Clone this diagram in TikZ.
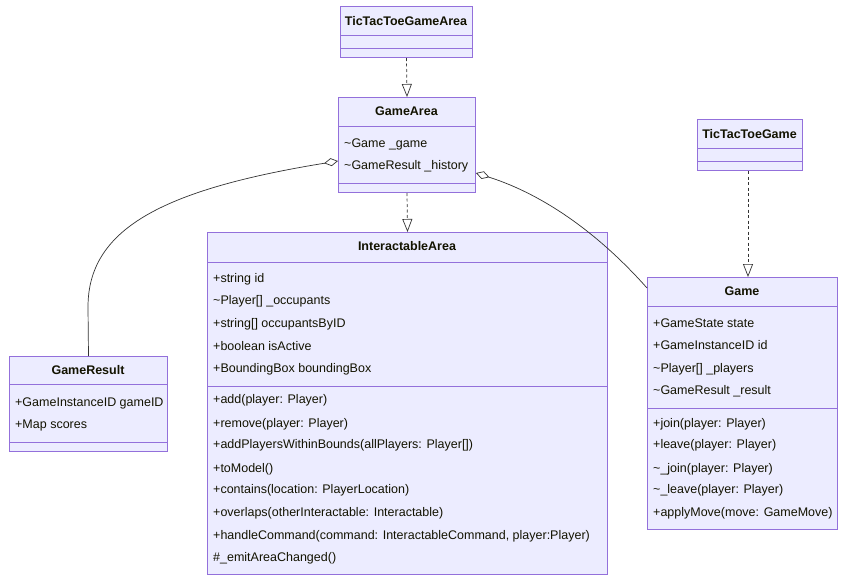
\documentclass[tikz,border=0pt]{standalone}
\usepackage{fontspec}
\setmainfont{Liberation Sans}
\usetikzlibrary{arrows.meta}
\definecolor{boxfill}{HTML}{ECECFF}
\definecolor{boxline}{HTML}{9370DB}
\definecolor{edge}{HTML}{333333}
\definecolor{txt}{HTML}{131300}
\tikzset{
  cls/.style={draw=boxline, fill=boxfill, line width=1pt, inner sep=0pt, anchor=north west},
  div/.style={draw=boxline, line width=1pt},
  mem/.style={anchor=mid west, inner sep=0pt, yshift=-2pt, text=txt, font=\fontsize{12.5}{15}\selectfont},
  ttl/.style={anchor=mid, inner sep=0pt, yshift=-2pt, text=txt, font=\fontsize{12.5}{15}\selectfont\bfseries},
  rel/.style={draw=edge, line width=0.7pt},
  inh/.style={rel, dash pattern=on 3pt off 2.5pt, -{Triangle[open, length=13pt, width=10pt, line width=0.7pt]}},
  agg/.style={rel, {Diamond[open, length=14pt, width=8pt, line width=0.7pt]}-}
}
\begin{document}
\begin{tikzpicture}[x=1pt, y=-1pt]
\useasboundingbox[fill=white] (0,0) rectangle (846,581);

% TicTacToeGameArea
\node[cls, minimum width=132pt, minimum height=51pt] (tga) at (340,6) {};
\node[ttl] (tga-t) at (406,20.5) {TicTacToeGameArea};
\draw[div] (340,35) -- (472,35);
\draw[div] (340,48) -- (472,48);

% GameArea
\node[cls, minimum width=137pt, minimum height=95pt] (ga) at (338,97) {};
\node[ttl] (ga-t) at (406.5,111) {GameArea};
\draw[div] (338,126) -- (475,126);
\node[mem] (ga-a1) at (344,142.7) {\textasciitilde Game \_game};
\node[mem] (ga-a2) at (344,164.7) {\textasciitilde GameResult \_history};
\draw[div] (338,183.3) -- (475,183.3);

% InteractableArea
\node[cls, minimum width=400pt, minimum height=342pt] (ia) at (207,232) {};
\node[ttl] (ia-t) at (407,246) {InteractableArea};
\draw[div] (207,262) -- (607,262);
\node[mem] (ia-a1) at (213,277.5) {+string id};
\node[mem] (ia-a2) at (213,300) {\textasciitilde Player[] \_occupants};
\node[mem] (ia-a3) at (213,322.7) {+string[] occupantsByID};
\node[mem] (ia-a4) at (213,345.5) {+boolean isActive};
\node[mem] (ia-a5) at (213,367.7) {+BoundingBox boundingBox};
\draw[div] (207,386) -- (607,386);
\node[mem] (ia-m1) at (213,399.3) {+add(player: Player)};
\node[mem] (ia-m2) at (213,422.7) {+remove(player: Player)};
\node[mem] (ia-m3) at (213,444.3) {+addPlayersWithinBounds(allPlayers: Player[])};
\node[mem] (ia-m4) at (213,467.7) {+toModel()};
\node[mem] (ia-m5) at (213,489.3) {+contains(location: PlayerLocation)};
\node[mem] (ia-m6) at (213,511.7) {+overlaps(otherInteractable: Interactable)};
\node[mem] (ia-m7) at (213,534.7) {+handleCommand(command: InteractableCommand, player:Player)};
\node[mem] (ia-m8) at (213,556.7) {\#\_emitAreaChanged()};

% GameResult
\node[cls, minimum width=158pt, minimum height=95pt] (gr) at (9,356) {};
\node[ttl] (gr-t) at (88,370) {GameResult};
\draw[div] (9,384.5) -- (167,384.5);
\node[mem] (gr-a1) at (15,401.7) {+GameInstanceID gameID};
\node[mem] (gr-a2) at (15,423.7) {+Map scores};
\draw[div] (9,442.5) -- (167,442.5);

% TicTacToeGame
\node[cls, minimum width=105pt, minimum height=51pt] (ttg) at (697,119) {};
\node[ttl] (ttg-t) at (749.5,133.5) {TicTacToeGame};
\draw[div] (697,148.5) -- (802,148.5);
\draw[div] (697,161) -- (802,161);

% Game
\node[cls, minimum width=190pt, minimum height=252pt] (gm) at (647,277) {};
\node[ttl] (gm-t) at (742,290.5) {Game};
\draw[div] (647,306) -- (837,306);
\node[mem] (gm-a1) at (653,322.7) {+GameState state};
\node[mem] (gm-a2) at (653,345.3) {+GameInstanceID id};
\node[mem] (gm-a3) at (653,367.7) {\textasciitilde Player[] \_players};
\node[mem] (gm-a4) at (653,390.3) {\textasciitilde GameResult \_result};
\draw[div] (647,408.3) -- (837,408.3);
\node[mem] (gm-m1) at (653,422.7) {+join(player: Player)};
\node[mem] (gm-m2) at (653,444.3) {+leave(player: Player)};
\node[mem] (gm-m3) at (653,467.7) {\textasciitilde \_join(player: Player)};
\node[mem] (gm-m4) at (653,489.3) {\textasciitilde \_leave(player: Player)};
\node[mem] (gm-m5) at (653,511.7) {+applyMove(move: GameMove)};

% connectors
\draw[inh] (tga.south) -- (ga.north);
\draw[inh] (ga.south) -- (ia.north);
\coordinate (kx) at (748,0);
\draw[inh] (ttg.south -| kx) -- (gm.north -| kx);
\coordinate (gaL) at ([yshift=-16pt]ga.west);
\coordinate (gaR) at ([yshift=-28pt]ga.east);
\coordinate (grv) at (88,307);
\coordinate (gmL) at ([yshift=-11pt]gm.north west);
\draw[agg] (gaL) .. controls (160,190) and (88,230) .. (grv) -- (gr.north);
\draw[agg] (gaR) .. controls (545,195) and (600,235) .. (gmL);
\end{tikzpicture}
\end{document}
